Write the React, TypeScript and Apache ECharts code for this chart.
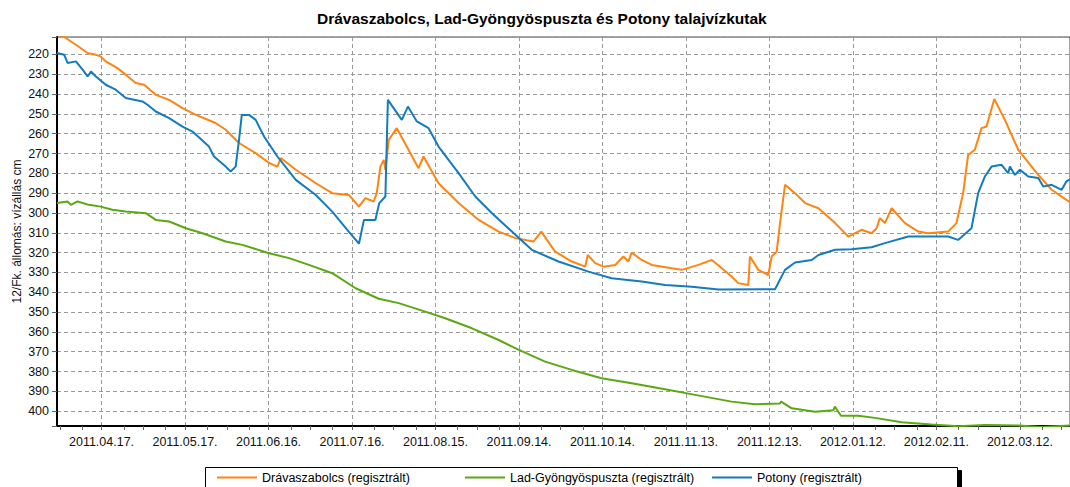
import React, { useEffect, useRef } from 'react';
import * as echarts from 'echarts';

const chartTitle = 'Drávaszabolcs, Lad-Gyöngyöspuszta és Potony talajvízkutak';
const yAxisName = '12/Fk. állomás: vízállás cm';
const seriesNames = ['Drávaszabolcs (regisztrált)', 'Lad-Gyöngyöspuszta (regisztrált)', 'Potony (regisztrált)'];
const seriesColors = ['#ff8410', '#5ba812', '#137bc0'];

// x: day offset from 2011.04.17 ; axis runs from 2011.04.01 (day -16) to 2012.03.30 (day 348)
const axisStartUTC = Date.UTC(2011, 3, 1);
const dayMin = -16;
const dayMax = 348;
const labelStepDays = 30;
const tickStepDays = 7.5;
const yMin = 211.2;
const yMax = 407.5;

// [day offset, water level cm]
const dravaszabolcs: [number, number][] = [
  [-16, 209.5], [-13.4, 211.2], [-9.2, 215.1], [-5, 219.3], [-2, 220.2], [-0.3, 221], [1.5, 223.5],
  [5.7, 226.9], [8.7, 230.2], [12.3, 234.4], [15.3, 235.3], [19.5, 240.4], [24.3, 242.9], [29.1, 247.1],
  [33.9, 250.5], [41, 254.6], [44.6, 258], [49.4, 264.7], [55.4, 269.8], [60.2, 274.8], [63.2, 276.6],
  [64.4, 272.3], [69.8, 278.2], [77, 285], [82.9, 290], [88.9, 290.9], [92.5, 296.8], [94.8, 292.5],
  [97.8, 294.2], [98.9, 290], [100.2, 276.6], [101.4, 273.2], [102, 278.2], [103.2, 263.1], [106.1, 257.2],
  [110.3, 268.1], [113.9, 277.4], [115.7, 271.5], [121.1, 285], [128.3, 295], [135.5, 303.5], [142.7, 309.4],
  [148.7, 312.7], [155.2, 314.4], [158, 309.4], [163, 319.5], [169, 324.5], [173.8, 327.1], [174.7, 321.2],
  [177.4, 325.3], [180.4, 327.1], [184.6, 326.2], [187.5, 322], [189.3, 324.5], [190.5, 320], [194.1, 323.7],
  [197.7, 326.2], [204.9, 327.9], [208.5, 328.7], [214.5, 326.2], [219.3, 323.7], [221.7, 326.5],
  [226.4, 332.1], [228.8, 335.4], [232.4, 336.3], [233, 322], [236, 328.7], [239.6, 331.3], [240.8, 322],
  [242.6, 319.5], [243.8, 305.1], [245.6, 285.8], [249.2, 290], [252.8, 295], [257.6, 297.6], [263.6, 305.1],
  [268.3, 311.9], [273.1, 308.5], [276.7, 310.2], [278.5, 307.7], [279.7, 302.6], [281.5, 305.1],
  [283.9, 297.6], [288.7, 305.1], [293.5, 309.4], [297.1, 310.2], [304.2, 309.4], [307.2, 305.1],
  [309.6, 290], [311.4, 270.7], [313.8, 268.1], [316.2, 257.2], [318, 256.4], [320.8, 242.5], [324.6, 253],
  [329.4, 268.1], [336.6, 280.8], [341.4, 288.3], [346.7, 293.4], [348, 294.5],
];

const ladGyongyospuszta: [number, number][] = [
  [-16, 295], [-12.2, 294.2], [-11, 295.9], [-8.6, 294.2], [-4.5, 295.9], [-0.3, 296.8], [3.9, 298.4],
  [8.7, 299.3], [15.9, 300.1], [19.5, 303.5], [24.3, 304.3], [30.3, 307.7], [36.3, 310.2], [44.6, 314.4],
  [50.6, 316.1], [60.2, 320.3], [67.4, 322.8], [74.5, 326.2], [82.9, 330.4], [91.3, 338], [99.6, 343.3],
  [106.8, 345.5], [116.3, 349.8], [123.5, 353.1], [133.1, 358.2], [142.7, 364.1], [149.8, 369],
  [159.4, 375], [169, 379.2], [179.7, 383.4], [190.5, 385.9], [202.5, 389], [213.3, 391.8], [226.4, 395.2],
  [234.8, 396.5], [243.8, 396.1], [244.2, 395.2], [248, 398.6], [256.4, 400.3], [263, 399.5],
  [263.5, 397.7], [265.7, 402.3], [271.9, 402.3], [277.9, 403.4], [287.5, 405.6], [298.2, 406.8],
  [307.8, 407.6], [317.4, 407], [329.4, 407.3], [337.8, 408], [348, 407.3],
];

const potony: [number, number][] = [
  [-16, 219.3], [-13.4, 220.2], [-12.2, 224.3], [-9.2, 223.5], [-6.8, 227.7], [-5, 231.1], [-3.8, 228.6],
  [-2, 231.1], [1.5, 235.3], [5.1, 237.8], [8.7, 242], [14.7, 243.7], [16.5, 245.4], [19.5, 248.8],
  [24.3, 252.1], [29.1, 256.4], [32.7, 258.9], [38.6, 266.5], [40.4, 271.5], [44.6, 276.6], [46.4, 279.1],
  [48.2, 276.6], [49.4, 263.1], [50.4, 250.5], [53, 250.5], [55.4, 253], [58.4, 261.4], [63.2, 271.5],
  [69.8, 283.3], [77, 290.9], [82.9, 299.3], [88.3, 308.5], [92.5, 315.5], [94.3, 303.5], [98.4, 303.5],
  [99.8, 295], [102, 291.7], [102.9, 242.9], [107.9, 253], [110.1, 246.3], [113.3, 253.8], [117.5, 257.2],
  [121.1, 266.5], [128.3, 279.9], [134.3, 291.7], [140.3, 300.1], [148.7, 311], [154.6, 318.6],
  [164.2, 324.5], [175, 329.6], [183.3, 332.9], [194.1, 334.6], [202.5, 336.3], [212.1, 337.2],
  [221.7, 338.6], [242, 338.5], [245.6, 328.7], [249.2, 325], [255.2, 323.7], [257.6, 321.2],
  [263.6, 318.6], [269.5, 318.3], [276.7, 317.3], [281.5, 315.2], [289.9, 311.9], [304.2, 311.9],
  [307.8, 313.6], [312.6, 307.7], [315, 290], [317.4, 281.6], [319.8, 276.6], [323.4, 275.7],
  [325.8, 279.9], [326.4, 276.6], [328.2, 280.8], [330, 278.2], [333, 281.6], [336.6, 282.4],
  [338.4, 286.7], [341.4, 285.8], [345, 288.3], [346.7, 284.1], [348, 283],
];

const seriesData = [dravaszabolcs, ladGyongyospuszta, potony];

const pad2 = (n: number) => (n < 10 ? '0' + n : String(n));
const dayLabels: string[] = [];
for (let i = 0; i <= dayMax - dayMin; i++) {
  const d = new Date(axisStartUTC + i * 86400000);
  dayLabels.push(`${d.getUTCFullYear()}.${pad2(d.getUTCMonth() + 1)}.${pad2(d.getUTCDate())}.`);
}
const isLabelDay = (i: number) => {
  const off = i + dayMin;
  return off >= 0 && off % labelStepDays === 0;
};
const isTickDay = (i: number) => {
  const off = i + dayMin;
  const r = ((off % tickStepDays) + tickStepDays) % tickStepDays;
  return r < 0.999;
};

const FONT = '"Liberation Sans", Arial, sans-serif';
const legendLefts = [217, 465, 712];

export default function App() {
  const ref = useRef<HTMLDivElement>(null);
  useEffect(() => {
    if (!ref.current) return;
    const chart = echarts.init(ref.current, undefined, { renderer: 'svg' });
    chart.setOption({
      animation: false,
      backgroundColor: '#ffffff',
      textStyle: { fontFamily: FONT },
      title: {
        text: chartTitle,
        left: 317,
        top: 10,
        padding: 0,
        textStyle: { fontSize: 15.5, fontWeight: 'bold', color: '#000', fontFamily: FONT },
      },
      graphic: [
        {
          type: 'rect',
          z: 1,
          silent: true,
          shape: { x: 205.5, y: 467.5, width: 752, height: 30 },
          style: {
            fill: '#fff',
            stroke: '#000',
            lineWidth: 1,
            shadowColor: '#000',
            shadowBlur: 0,
            shadowOffsetX: 4,
            shadowOffsetY: 3,
          },
        },
      ],
      legend: seriesNames.map((name, k) => ({
        data: [name],
        left: legendLefts[k],
        top: 471,
        z: 10,
        orient: 'horizontal',
        icon: 'rect',
        itemWidth: 40,
        itemHeight: 2,
        padding: 0,
        selectedMode: false,
        textStyle: { fontSize: 12.5, color: '#000', fontFamily: FONT },
      })),
      grid: {
        left: 57,
        right: 0,
        top: 37,
        bottom: 61,
        show: true,
        borderColor: '#444',
        borderWidth: 1,
        backgroundColor: 'transparent',
        outerBoundsMode: 'none',
      },
      xAxis: [
        { type: 'value', min: dayMin, max: dayMax, show: false, position: 'bottom', axisLine: { onZero: false } },
        {
          type: 'category',
          data: dayLabels,
          boundaryGap: false,
          position: 'bottom',
          axisLine: { show: true, onZero: false, lineStyle: { color: '#000', width: 2 } },
          axisTick: { show: true, length: 4, interval: (i: number) => isTickDay(i), lineStyle: { color: '#666' } },
          axisLabel: {
            interval: (i: number) => isLabelDay(i),
            color: '#111',
            fontSize: 12.5,
            margin: 9,
            fontFamily: FONT,
          },
          splitLine: {
            show: true,
            interval: (i: number) => isLabelDay(i),
            lineStyle: { color: '#999999', type: [4, 3], width: 1 },
          },
        },
      ],
      yAxis: {
        type: 'value',
        inverse: true,
        min: yMin,
        max: yMax,
        splitNumber: 20,
        name: yAxisName,
        nameLocation: 'middle',
        nameGap: 34,
        nameMoveOverlap: false,
        nameTextStyle: { fontSize: 12, color: '#111', fontFamily: FONT },
        axisLine: { show: true, onZero: false, lineStyle: { color: '#000', width: 2 } },
        axisTick: { show: true, length: 5, lineStyle: { color: '#666' } },
        axisLabel: {
          color: '#111',
          fontSize: 12.5,
          margin: 8,
          fontFamily: FONT,
          formatter: (v: number) => (Math.abs(v / 10 - Math.round(v / 10)) < 1e-6 ? String(Math.round(v)) : ''),
        },
        splitLine: { show: true, lineStyle: { color: '#999999', type: [4, 3], width: 1 } },
      },
      series: seriesNames.map((name, k) => ({
        name,
        type: 'line',
        xAxisIndex: 0,
        yAxisIndex: 0,
        data: seriesData[k],
        showSymbol: false,
        symbol: 'none',
        clip: true,
        color: seriesColors[k],
        lineStyle: { color: seriesColors[k], width: 2 },
        itemStyle: { color: seriesColors[k] },
        z: 3 + k,
      })),
    });
    return () => chart.dispose();
  }, []);
  return <div ref={ref} style={{ position: 'absolute', left: 0, top: 0, width: 1070, height: 487 }} />;
}
